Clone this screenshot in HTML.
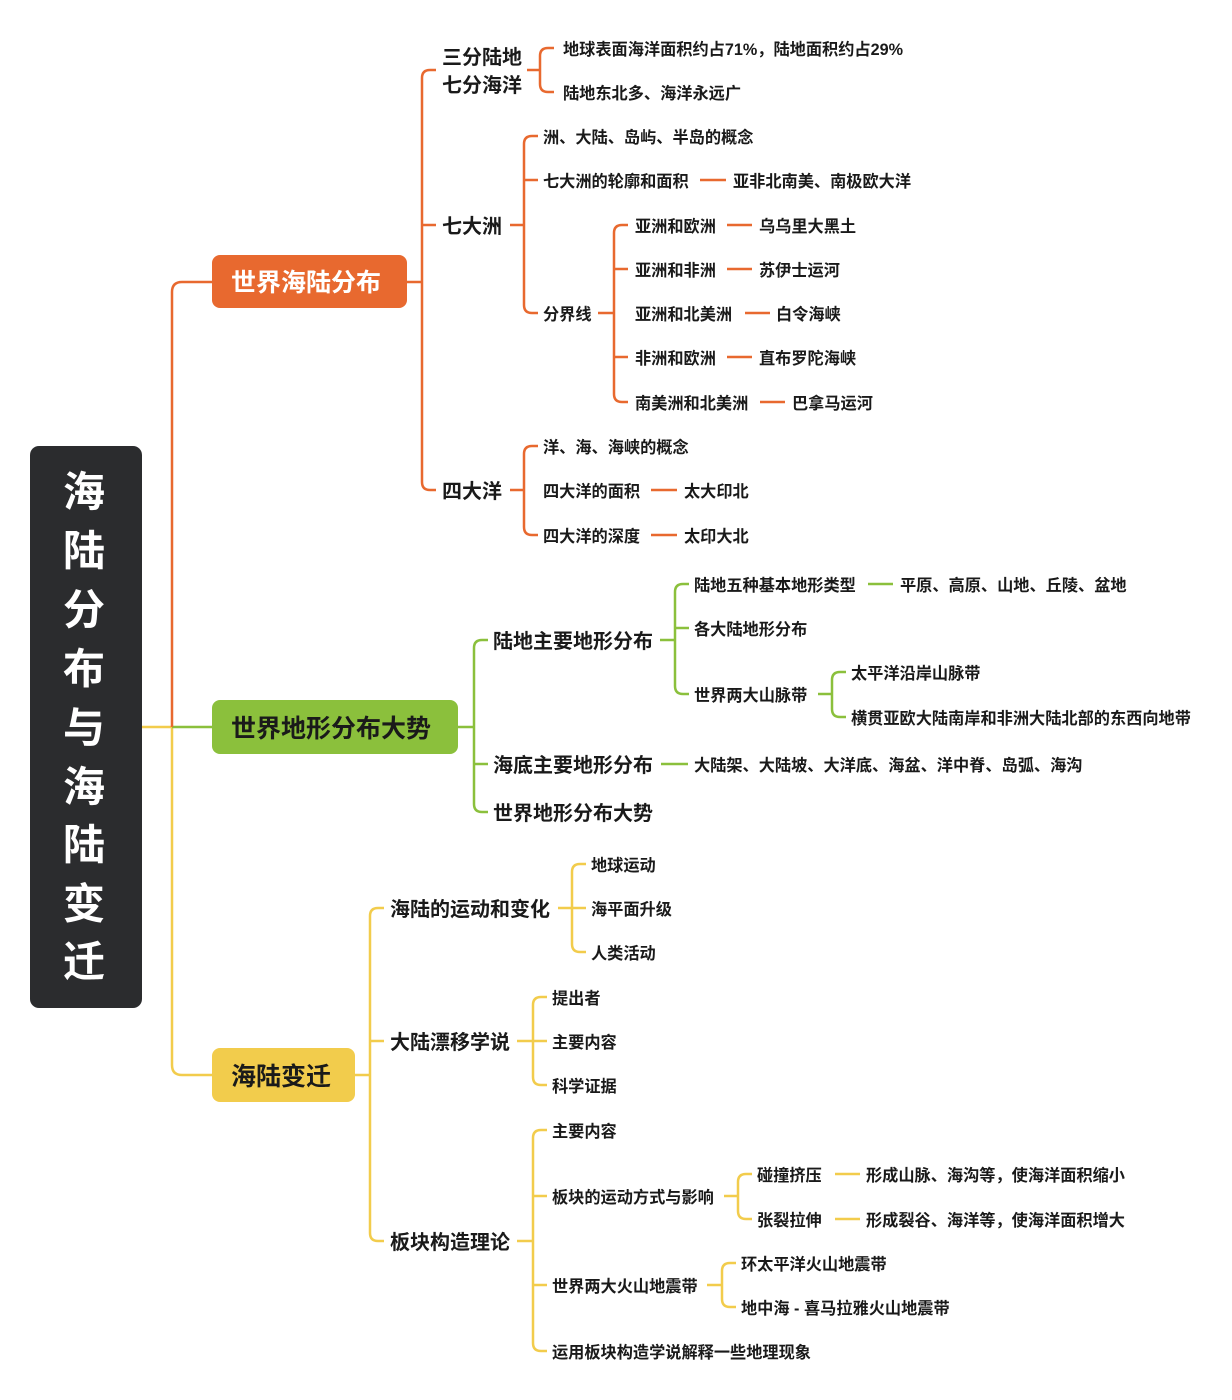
<!DOCTYPE html>
<html><head><meta charset="utf-8"><style>
html,body{margin:0;padding:0;background:#fff;}
svg{display:block;}
text{font-family:"Liberation Sans","Noto Sans CJK SC",sans-serif;font-weight:bold;fill:#1a1a1a;dominant-baseline:central;transform:translateY(2px);}
.l{font-size:16.2px;}
.m{font-size:20px;}
.o{stroke:#E8692F;}
.g{stroke:#8BC03C;}
.y{stroke:#F2CC4C;}
path{fill:none;stroke-width:2.5;}
</style></head><body>
<svg width="1232" height="1400" viewBox="0 0 1232 1400" xmlns="http://www.w3.org/2000/svg">
<rect x="30" y="446" width="112" height="562" rx="9" fill="#2B2C2E"/>
<g style="font-size:42px" text-anchor="middle">
<text x="84" y="490" style="fill:#fff">海</text>
<text x="84" y="549" style="fill:#fff">陆</text>
<text x="84" y="608" style="fill:#fff">分</text>
<text x="84" y="667" style="fill:#fff">布</text>
<text x="84" y="726" style="fill:#fff">与</text>
<text x="84" y="785" style="fill:#fff">海</text>
<text x="84" y="843" style="fill:#fff">陆</text>
<text x="84" y="902" style="fill:#fff">变</text>
<text x="84" y="960" style="fill:#fff">迁</text>
</g>
<path class="y" d="M142 727 H172 V1065 Q172 1075 182 1075 H212"/>
<path class="g" d="M172 727 H212"/>
<path class="o" d="M172 727 V292 Q172 282 182 282 H212"/>
<rect x="212" y="255" width="195" height="53" rx="8" fill="#E8692F"/>
<text x="231" y="281" style="font-size:25px;fill:#fff">世界海陆分布</text>
<rect x="212" y="700" width="246" height="54" rx="8" fill="#8BC03C"/>
<text x="231" y="727" style="font-size:25px">世界地形分布大势</text>
<rect x="212" y="1048" width="143" height="54" rx="8" fill="#F2CC4C"/>
<text x="231" y="1075" style="font-size:25px">海陆变迁</text>

<path class="o" d="M407 282 H422 M436 70 H430 Q422 70 422 78 V482 Q422 490 430 490 H436 M422 225 H436"/>
<text class="m" x="442" y="56">三分陆地</text>
<text class="m" x="442" y="84">七分海洋</text>
<text class="m" x="442" y="225">七大洲</text>
<text class="m" x="442" y="490">四大洋</text>
<path class="o" d="M527 70 H540 M554 48 H548 Q540 48 540 56 V84 Q540 92 548 92 H554"/>
<text class="l" x="563" y="48">地球表面海洋面积约占71%，陆地面积约占29%</text>
<text class="l" x="563" y="92">陆地东北多、海洋永远广</text>
<path class="o" d="M510 225 H524 M538 136 H532 Q524 136 524 144 V305 Q524 313 532 313 H538 M524 180 H538"/>
<text class="l" x="543" y="136">洲、大陆、岛屿、半岛的概念</text>
<text class="l" x="543" y="180">七大洲的轮廓和面积</text>
<path class="o" d="M700 180 H726"/>
<text class="l" x="733" y="180">亚非北南美、南极欧大洋</text>
<text class="l" x="543" y="313">分界线</text>
<path class="o" d="M598 313 H614 M628 225 H622 Q614 225 614 233 V394 Q614 402 622 402 H628 M614 269 H628 M614 357 H628"/>
<text class="l" x="635" y="225">亚洲和欧洲</text>
<text class="l" x="635" y="269">亚洲和非洲</text>
<text class="l" x="635" y="313">亚洲和北美洲</text>
<text class="l" x="635" y="357">非洲和欧洲</text>
<text class="l" x="635" y="402">南美洲和北美洲</text>
<path class="o" d="M727 225 H752 M727 269 H752 M745 313 H770 M727 357 H752 M760 402 H785"/>
<text class="l" x="759" y="225">乌乌里大黑土</text>
<text class="l" x="759" y="269">苏伊士运河</text>
<text class="l" x="776" y="313">白令海峡</text>
<text class="l" x="759" y="357">直布罗陀海峡</text>
<text class="l" x="792" y="402">巴拿马运河</text>
<path class="o" d="M510 490 H524 M538 446 H532 Q524 446 524 454 V527 Q524 535 532 535 H538"/>
<text class="l" x="543" y="446">洋、海、海峡的概念</text>
<text class="l" x="543" y="490">四大洋的面积</text>
<text class="l" x="543" y="535">四大洋的深度</text>
<path class="o" d="M651 490 H677 M651 535 H677"/>
<text class="l" x="684" y="490">太大印北</text>
<text class="l" x="684" y="535">太印大北</text>

<path class="g" d="M458 727 H474 M488 640 H482 Q474 640 474 648 V804 Q474 812 482 812 H488 M474 764 H488"/>
<text class="m" x="493" y="640">陆地主要地形分布</text>
<text class="m" x="493" y="764">海底主要地形分布</text>
<text class="m" x="493" y="812">世界地形分布大势</text>
<path class="g" d="M660 640 H675 M689 584 H683 Q675 584 675 592 V686 Q675 694 683 694 H689 M675 628 H689"/>
<text class="l" x="694" y="584">陆地五种基本地形类型</text>
<path class="g" d="M868 584 H893"/>
<text class="l" x="900" y="584">平原、高原、山地、丘陵、盆地</text>
<text class="l" x="694" y="628">各大陆地形分布</text>
<text class="l" x="694" y="694">世界两大山脉带</text>
<path class="g" d="M818 694 H832 M846 672 H840 Q832 672 832 680 V709 Q832 717 840 717 H846"/>
<text class="l" x="851" y="672">太平洋沿岸山脉带</text>
<text class="l" x="851" y="717">横贯亚欧大陆南岸和非洲大陆北部的东西向地带</text>
<path class="g" d="M661 764 H688"/>
<text class="l" x="694" y="764">大陆架、大陆坡、大洋底、海盆、洋中脊、岛弧、海沟</text>

<path class="y" d="M355 1075 H370 M384 908 H378 Q370 908 370 916 V1233 Q370 1241 378 1241 H384 M370 1041 H384"/>
<text class="m" x="390" y="908">海陆的运动和变化</text>
<text class="m" x="390" y="1041">大陆漂移学说</text>
<text class="m" x="390" y="1241">板块构造理论</text>
<path class="y" d="M558 908 H572 M586 864 H580 Q572 864 572 872 V944 Q572 952 580 952 H586 M572 908 H586"/>
<text class="l" x="591" y="864">地球运动</text>
<text class="l" x="591" y="908">海平面升级</text>
<text class="l" x="591" y="952">人类活动</text>
<path class="y" d="M517 1041 H533 M547 997 H541 Q533 997 533 1005 V1077 Q533 1085 541 1085 H547 M533 1041 H547"/>
<text class="l" x="552" y="997">提出者</text>
<text class="l" x="552" y="1041">主要内容</text>
<text class="l" x="552" y="1085">科学证据</text>
<path class="y" d="M517 1241 H533 M547 1130 H541 Q533 1130 533 1138 V1343 Q533 1351 541 1351 H547 M533 1196 H547 M533 1285 H547"/>
<text class="l" x="552" y="1130">主要内容</text>
<text class="l" x="552" y="1196">板块的运动方式与影响</text>
<text class="l" x="552" y="1285">世界两大火山地震带</text>
<text class="l" x="552" y="1351">运用板块构造学说解释一些地理现象</text>
<path class="y" d="M724 1196 H738 M752 1174 H746 Q738 1174 738 1182 V1211 Q738 1219 746 1219 H752"/>
<text class="l" x="757" y="1174">碰撞挤压</text>
<text class="l" x="757" y="1219">张裂拉伸</text>
<path class="y" d="M835 1174 H860 M835 1219 H860"/>
<text class="l" x="866" y="1174">形成山脉、海沟等，使海洋面积缩小</text>
<text class="l" x="866" y="1219">形成裂谷、海洋等，使海洋面积增大</text>
<path class="y" d="M707 1285 H722 M736 1263 H730 Q722 1263 722 1271 V1299 Q722 1307 730 1307 H736"/>
<text class="l" x="741" y="1263">环太平洋火山地震带</text>
<text class="l" x="741" y="1307">地中海 - 喜马拉雅火山地震带</text>
</svg>
</body></html>
